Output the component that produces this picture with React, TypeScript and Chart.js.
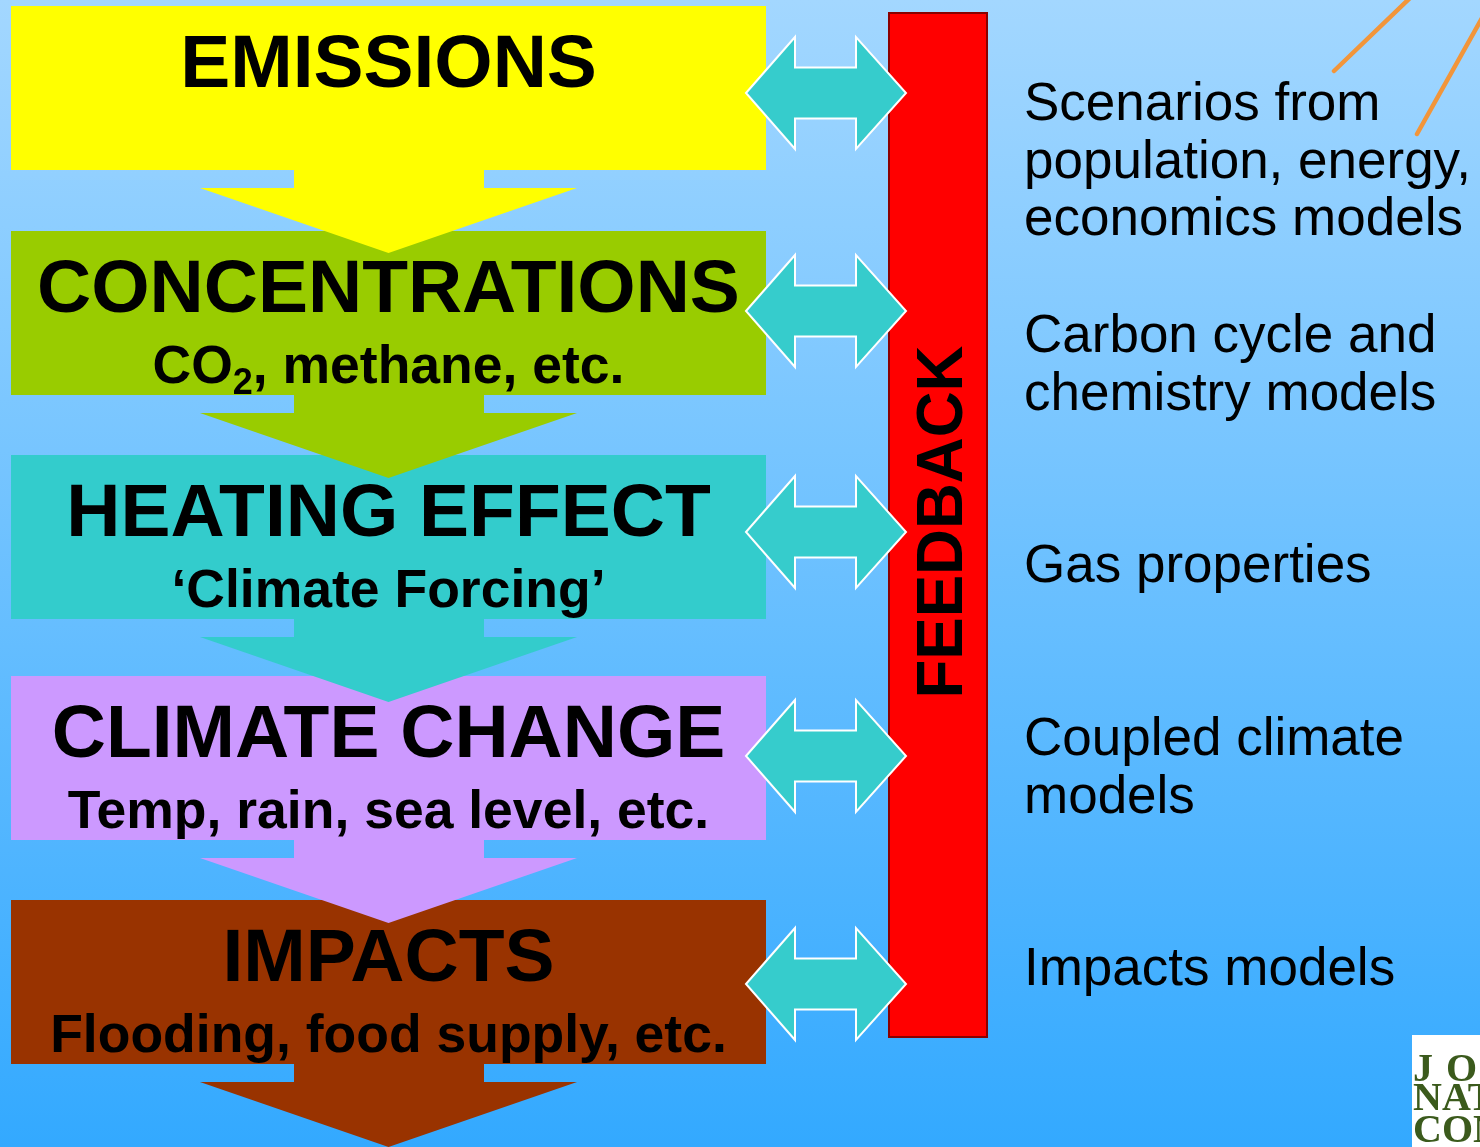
import React, { useEffect, useRef } from 'react';
import { Chart, registerables } from 'chart.js';

Chart.register(...registerables);

// ---- Data (content of the diagram) ----
const stageTitles = ['EMISSIONS', 'CONCENTRATIONS', 'HEATING EFFECT', 'CLIMATE CHANGE', 'IMPACTS'];
const stageSubtitles = ['', 'CO2, methane, etc.', '\u2018Climate Forcing\u2019', 'Temp, rain, sea level, etc.', 'Flooding, food supply, etc.'];
const stageColors = ['#ffff00', '#99cc00', '#33cccc', '#cc99ff', '#993300'];
const modelLabels = [
  ['Scenarios from', 'population, energy,', 'economics models'],
  ['Carbon cycle and', 'chemistry models'],
  ['Gas properties'],
  ['Coupled climate', 'models'],
  ['Impacts models'],
];
const feedbackLabel = 'FEEDBACK';
const logoLines = ['J O', 'NAT', 'CON'];

// ---- Layout (value space of the hidden linear scales) ----
const VIEW_W = 1480;
const VIEW_H = 1147;
const BOX_X0 = 11;
const BOX_X1 = 766;
const BOX_TOPS = [6, 231, 455, 676, 900];
const BOX_H = 164;
const ARROW_CENTERS = [93, 311, 532, 756, 984];
const LABEL_BASELINES = [120, 352, 582, 755, 985];

const SANS = '"Liberation Sans", Arial, Helvetica, sans-serif';
const SERIF = '"Liberation Serif", "Times New Roman", serif';

const diagramPlugin = {
  id: 'diagram',
  beforeDraw(chart: any) {
    const ctx: CanvasRenderingContext2D = chart.ctx;
    const xs = chart.scales.x;
    const ys = chart.scales.y;
    const px = (v: number) => xs.getPixelForValue(v);
    const py = (v: number) => ys.getPixelForValue(v);

    ctx.save();
    // background
    const g = ctx.createLinearGradient(0, py(0), 0, py(VIEW_H));
    g.addColorStop(0, '#a3d7ff');
    g.addColorStop(1, '#33a9ff');
    ctx.fillStyle = g;
    ctx.fillRect(px(0), py(0), px(VIEW_W) - px(0), py(VIEW_H) - py(0));

    // orange decorative lines (top right)
    ctx.strokeStyle = '#f2953a';
    ctx.lineWidth = 4.5;
    ctx.lineCap = 'round';
    ctx.beginPath();
    ctx.moveTo(px(1334), py(71));
    ctx.lineTo(px(1410), py(-2));
    ctx.moveTo(px(1417), py(134));
    ctx.lineTo(px(1482), py(18));
    ctx.stroke();

    // stage boxes
    stageTitles.forEach((_, i) => {
      ctx.fillStyle = stageColors[i];
      const t = BOX_TOPS[i];
      ctx.fillRect(px(BOX_X0), py(t), px(BOX_X1) - px(BOX_X0), py(t + BOX_H) - py(t));
    });

    // down arrows
    const cx = (BOX_X0 + BOX_X1) / 2;
    stageTitles.forEach((_, i) => {
      const b = BOX_TOPS[i] + BOX_H;
      ctx.fillStyle = stageColors[i];
      ctx.beginPath();
      ctx.moveTo(px(294), py(b - 1));
      ctx.lineTo(px(484), py(b - 1));
      ctx.lineTo(px(484), py(b + 18));
      ctx.lineTo(px(577), py(b + 18));
      ctx.lineTo(px(cx), py(b + 83));
      ctx.lineTo(px(200), py(b + 18));
      ctx.lineTo(px(294), py(b + 18));
      ctx.closePath();
      ctx.fill();
    });

    // feedback bar
    ctx.fillStyle = '#ff0000';
    ctx.fillRect(px(889), py(13), px(987) - px(889), py(1037) - py(13));
    ctx.strokeStyle = '#8a0000';
    ctx.lineWidth = 2;
    ctx.strokeRect(px(889), py(13), px(987) - px(889), py(1037) - py(13));

    // feedback text
    ctx.save();
    ctx.translate(px(962), py(522));
    ctx.rotate(-Math.PI / 2);
    ctx.font = `bold 65px ${SANS}`;
    const fw = ctx.measureText(feedbackLabel).width;
    ctx.scale(353 / fw, 1);
    ctx.fillStyle = '#000000';
    ctx.textAlign = 'center';
    ctx.textBaseline = 'alphabetic';
    ctx.fillText(feedbackLabel, 0, 0);
    ctx.restore();

    // double arrows
    ARROW_CENTERS.forEach((c) => {
      const L = 746, R = 906, hl = 795, hr = 856, H = 56, S = 25.5;
      ctx.beginPath();
      ctx.moveTo(px(L), py(c));
      ctx.lineTo(px(hl), py(c - H));
      ctx.lineTo(px(hl), py(c - S));
      ctx.lineTo(px(hr), py(c - S));
      ctx.lineTo(px(hr), py(c - H));
      ctx.lineTo(px(R), py(c));
      ctx.lineTo(px(hr), py(c + H));
      ctx.lineTo(px(hr), py(c + S));
      ctx.lineTo(px(hl), py(c + S));
      ctx.lineTo(px(hl), py(c + H));
      ctx.closePath();
      ctx.fillStyle = '#36cccc';
      ctx.fill();
      ctx.strokeStyle = '#ffffff';
      ctx.lineWidth = 2;
      ctx.lineJoin = 'miter';
      ctx.stroke();
    });

    // stage titles & subtitles
    ctx.fillStyle = '#000000';
    ctx.textBaseline = 'alphabetic';
    stageTitles.forEach((title, i) => {
      const t = BOX_TOPS[i];
      ctx.font = `bold 75px ${SANS}`;
      ctx.textAlign = 'center';
      ctx.fillText(title, px(cx), py(t + 81));
      const sub = stageSubtitles[i];
      if (!sub) return;
      const base = py(t + 152);
      const mainFont = `bold 53.5px ${SANS}`;
      const subFont = `bold 36px ${SANS}`;
      const m = sub.match(/^(.*?CO)(2)(.*)$/);
      if (m) {
        ctx.font = mainFont;
        const w1 = ctx.measureText(m[1]).width;
        const w3 = ctx.measureText(m[3]).width;
        ctx.font = subFont;
        const w2 = ctx.measureText(m[2]).width;
        const x0 = px(cx) - (w1 + w2 + w3) / 2;
        ctx.textAlign = 'left';
        ctx.font = mainFont;
        ctx.fillText(m[1], x0, base);
        ctx.font = subFont;
        ctx.fillText(m[2], x0 + w1, base + 11);
        ctx.font = mainFont;
        ctx.fillText(m[3], x0 + w1 + w2, base);
      } else {
        ctx.font = mainFont;
        ctx.textAlign = 'center';
        ctx.fillText(sub, px(cx), base);
      }
    });

    // model labels
    ctx.font = `53px ${SANS}`;
    ctx.textAlign = 'left';
    modelLabels.forEach((lines, i) => {
      lines.forEach((line, j) => {
        ctx.fillText(line, px(1024), py(LABEL_BASELINES[i] + j * 57.5));
      });
    });

    // logo
    ctx.fillStyle = '#ffffff';
    ctx.fillRect(px(1412), py(1035), px(VIEW_W) - px(1412), py(VIEW_H) - py(1035));
    ctx.fillStyle = '#3b5a1c';
    ctx.font = `bold 40px ${SERIF}`;
    ctx.textAlign = 'left';
    const logoBase = [1081, 1110, 1142];
    logoLines.forEach((line, i) => {
      if (line.indexOf(' ') >= 0) {
        const parts = line.split(' ');
        ctx.fillText(parts[0], px(1413), py(logoBase[i]));
        ctx.fillText(parts[1], px(1446), py(logoBase[i]));
      } else {
        ctx.fillText(line, px(1413), py(logoBase[i]));
      }
    });

    ctx.restore();
  },
};

export default function App() {
  const canvasRef = useRef<HTMLCanvasElement | null>(null);

  useEffect(() => {
    document.body.style.margin = '0';
    const canvas = canvasRef.current;
    if (!canvas) return;
    const chart = new Chart(canvas, {
      type: 'scatter',
      data: { datasets: [{ data: [], pointRadius: 0 }] },
      options: {
        animation: false,
        responsive: false,
        devicePixelRatio: 1,
        layout: { padding: 0 },
        plugins: { legend: { display: false }, tooltip: { enabled: false } },
        scales: {
          x: { type: 'linear', min: 0, max: VIEW_W, display: false },
          y: { type: 'linear', min: 0, max: VIEW_H, reverse: true, display: false },
        },
      },
      plugins: [diagramPlugin],
    });
    return () => chart.destroy();
  }, []);

  return (
    <div style={{ width: VIEW_W, height: VIEW_H }}>
      <canvas ref={canvasRef} width={VIEW_W} height={VIEW_H} style={{ display: 'block' }} />
    </div>
  );
}
